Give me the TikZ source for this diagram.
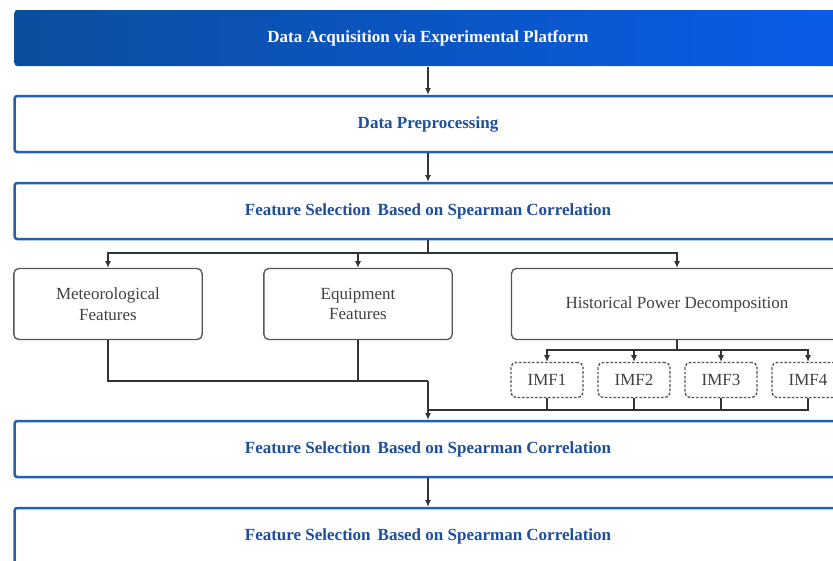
\documentclass[tikz,border=0pt]{standalone}
\usepackage{fontspec}
\setmainfont{Liberation Serif}
\usetikzlibrary{arrows.meta}

\definecolor{stageblue}{HTML}{2461AC}
\definecolor{stagetext}{HTML}{1F4F9C}
\definecolor{headleft}{HTML}{0B4E9E}
\definecolor{headright}{HTML}{0A5CE8}
\definecolor{featgray}{HTML}{555555}

\begin{document}
\begin{tikzpicture}[x=0.6pt, y=-0.6pt,
    txt/.style={font=\fontsize{10.2pt}{12.4pt}\selectfont},
    stage/.style={txt, draw=stageblue, line width=1.5pt, fill=white,
        rounded corners=1.5pt, text=stagetext, font=\fontsize{10.2pt}{12.4pt}\selectfont\bfseries,
        minimum width=496pt, minimum height=33.6pt, inner sep=0pt},
    head/.style={stage, draw=none, left color=headleft, right color=headright, text=white},
    feat/.style={txt, draw=featgray, line width=0.8pt, rounded corners=3pt, text=black!75,
        align=center, minimum width=113pt, minimum height=42.6pt, inner sep=0pt},
    imf/.style={feat, dashed, dash pattern=on 1.6pt off 1pt, minimum width=43.2pt, minimum height=21pt},
    link/.style={draw=black!80, line width=0.7pt},
    arr/.style={link, -{Latex[length=4pt, width=3.6pt]}}]

\useasboundingbox (0,0) rectangle (833,560);

%% === main stages ===
\node[head]  (acq)  at (428, 38)  {Data Acquisition via Experimental Platform};
\node[stage] (prep) at (428,124)  {Data Preprocessing};
\node[stage] (sel)  at (428,211)  {Feature Selection\, Based on Spearman Correlation};

%% === feature groups ===
\node[feat] (met)   at (108,304) {Meteorological\\Features};
\node[feat] (equip) at (358,304) {Equipment\\Features};
\node[feat, minimum width=198.6pt] (hist) at (677,304) {Historical Power Decomposition};

\foreach \k/\x in {1/547,2/634,3/721,4/808}
    \node[imf] (imf\k) at (\x,380) {IMF\k};

%% === later stages ===
\node[stage] (selb) at (428,449) {Feature Selection\, Based on Spearman Correlation};
\node[stage] (selc) at (428,536) {Feature Selection\, Based on Spearman Correlation};

%% === connectors ===
\draw[arr] (acq)  -- (prep);
\draw[arr] (prep) -- (sel);

\coordinate (split) at (428,253);
\draw[link] (sel.south) -- (split);
\foreach \n in {met,equip,hist}
    \draw[arr] (split) -| (\n.north);

\coordinate (imfsplit) at (677,350);
\draw[link] (hist.south) -- (imfsplit);
\foreach \k in {1,...,4}
    \draw[arr] (imfsplit) -| (imf\k.north);

%% merge of the three groups
\coordinate (merge) at (428,381);
\coordinate (imfmerge) at (428,410);
\draw[link] (met.south) |- (merge);
\draw[link] (equip.south) |- (merge);
\foreach \k in {1,...,4}
    \draw[link] (imf\k.south) |- (imfmerge);
\draw[arr] (merge) -- (selb.north);

\draw[arr] (selb) -- (selc);

\end{tikzpicture}
\end{document}
